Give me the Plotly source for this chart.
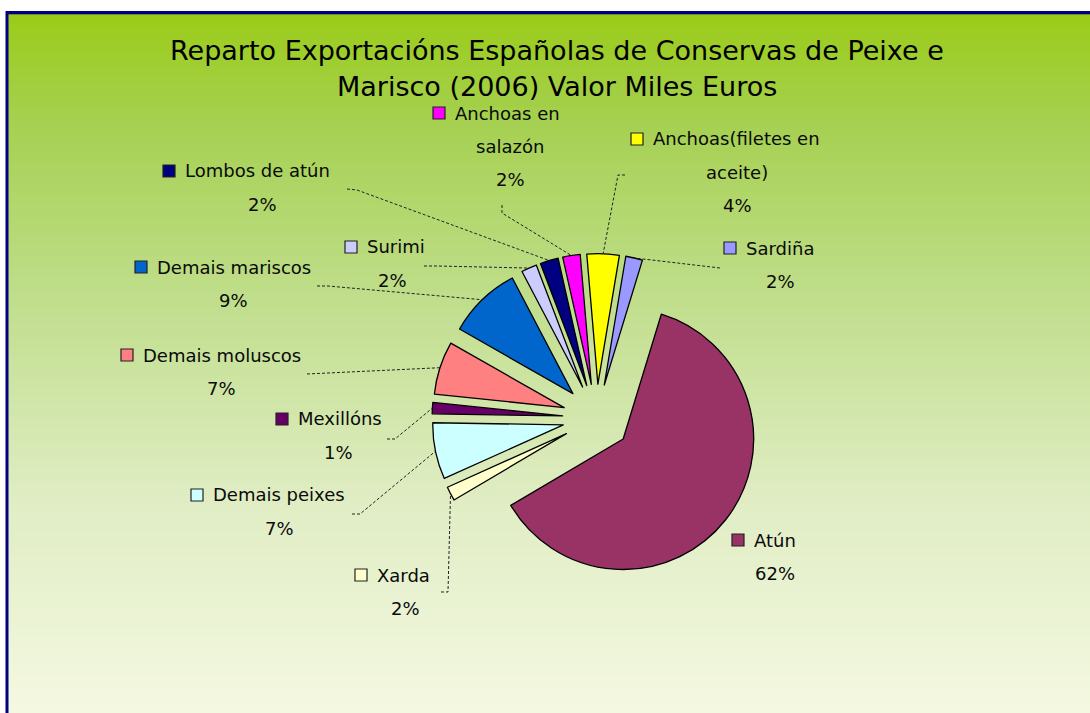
import plotly.graph_objects as go
import math

# ---------------- data ----------------
categories = ["Atún", "Xarda", "Demais peixes", "Mexillóns", "Demais moluscos",
              "Demais mariscos", "Surimi", "Lombos de atún", "Anchoas en salazón",
              "Anchoas(filetes en aceite)", "Sardiña"]
values = [371000, 10500, 42000, 8400, 39500, 54500, 11500, 13500, 13000, 24000, 12500]
colors = ["#993366", "#FFFFCC", "#CCFFFF", "#660066", "#FF8080", "#0066CC",
          "#CCCCFF", "#000080", "#FF00FF", "#FFFF00", "#9999FF"]
label_lines = [["Atún"], ["Xarda"], ["Demais peixes"], ["Mexillóns"], ["Demais moluscos"],
               ["Demais mariscos"], ["Surimi"], ["Lombos de atún"], ["Anchoas en", "salazón"],
               ["Anchoas(filetes en", "aceite)"], ["Sardiña"]]
title_lines = ["Reparto Exportacións Españolas de Conservas de Peixe e",
               "Marisco (2006) Valor Miles Euros"]

# ---------------- layout helpers (pixels) ----------------
W, H = 1090, 713
def X(px): return px / W
def Y(py): return 1 - py / H

CX, CY = 596.5, 418.0      # pie centre (px)
R = 130.5                   # pie radius (px)
PULL = 0.26
ROT = 17
BOX = 2 * R * (1 + PULL)

# label block placement: (text start x of first line, centre x, first line y)
label_pos = [(752, 775, 540), (375, 405, 575), (211, 279, 495), (296, 338, 419),
             (141, 221, 355), (155, 233, 267), (365, 392, 247), (183, 262, 171),
             (453, 510, 113), (651, 737, 139), (744, 780, 248)]
# leader line label-side points (None = no line)
leader_pts = [None, [(441, 592), (448, 592)], [(352, 514), (360, 514)],
              [(387, 439), (395, 439)], [(307, 374)], [(317, 286), (328, 286)],
              [(424, 266), (437, 266)], [(347, 189), (357, 190)],
              [(502, 205), (502, 213)], [(625, 175), (618, 175)], [(720, 268)]]
LINE_GAP = 33

total = sum(values)
pcts = [round(100 * v / total) for v in values]

fig = go.Figure()
fig.add_trace(go.Pie(
    labels=categories, values=values, sort=False, direction="clockwise",
    rotation=ROT, pull=[PULL] * len(values), textinfo="none", hoverinfo="label+value+percent",
    marker=dict(colors=colors, line=dict(color="#000000", width=1.3)),
    domain=dict(x=[X(CX - BOX / 2), X(CX + BOX / 2)], y=[Y(CY + BOX / 2), Y(CY - BOX / 2)]),
    showlegend=False,
))

shapes = []
# gradient background
stops = [(11, (154, 204, 22)), (120, (165, 208, 80)), (300, (192, 222, 140)),
         (500, (224, 237, 196)), (713, (244, 248, 225))]
def grad(py):
    for (y0, c0), (y1, c1) in zip(stops[:-1], stops[1:]):
        if py <= y1:
            t = max(0.0, (py - y0) / (y1 - y0))
            return tuple(round(a + (b - a) * t) for a, b in zip(c0, c1))
    return stops[-1][1]
step = 4
y = 11
while y < 730:
    c = grad(y + step / 2)
    shapes.append(dict(type="rect", xref="paper", yref="paper", x0=X(7), x1=X(1100),
                       y0=Y(y), y1=Y(y + step + 0.6), line=dict(width=0),
                       fillcolor="rgb(%d,%d,%d)" % c, layer="below"))
    y += step
# thin inner line under the border
shapes.append(dict(type="line", xref="paper", yref="paper", x0=X(8), x1=X(1100),
                   y0=Y(14.5), y1=Y(14.5), line=dict(color="#6E8C2A", width=1), layer="below"))
# border
shapes.append(dict(type="rect", xref="paper", yref="paper", x0=X(7), x1=X(1110),
                   y0=Y(12.5), y1=Y(740), line=dict(color="#000080", width=3),
                   fillcolor="rgba(0,0,0,0)", layer="below"))

annotations = []
for i, ln in enumerate(title_lines):
    annotations.append(dict(text=ln, x=X(556.5), y=Y(50 + 37 * i), xref="paper", yref="paper",
                            showarrow=False, xanchor="center", yanchor="middle",
                            font=dict(family="DejaVu Sans", size=27, color="#000000")))

# slice anchor points computed from data
cum = 0
for i, v in enumerate(values):
    a0 = ROT + 360 * cum / total
    a1 = ROT + 360 * (cum + v) / total
    cum += v
    mid = math.radians((a0 + a1) / 2)
    ax = CX + R * (1 + PULL) * math.sin(mid)
    ay = CY - R * (1 + PULL) * math.cos(mid)

    start, cx, y0 = label_pos[i]
    lines = label_lines[i] + ["%d%%" % pcts[i]]
    for j, t in enumerate(lines):
        if j == 0:
            annotations.append(dict(text=t, x=X(start), y=Y(y0), xref="paper", yref="paper",
                                    showarrow=False, xanchor="left", yanchor="middle",
                                    font=dict(family="DejaVu Sans", size=18, color="#0A0A0A")))
        else:
            annotations.append(dict(text=t, x=X(cx), y=Y(y0 + LINE_GAP * j), xref="paper",
                                    yref="paper", showarrow=False, xanchor="center",
                                    yanchor="middle",
                                    font=dict(family="DejaVu Sans", size=18, color="#0A0A0A")))
    # legend key
    k = start - 14
    shapes.append(dict(type="rect", xref="paper", yref="paper", x0=X(k - 6), x1=X(k + 6),
                       y0=Y(y0 + 6), y1=Y(y0 - 6), line=dict(color="#222222", width=1.2),
                       fillcolor=colors[i], layer="above"))
    # leader line
    pts = leader_pts[i]
    if pts:
        allp = pts + [(ax, ay)]
        path = "M " + " L ".join("%.5f,%.5f" % (X(px), Y(py)) for px, py in allp)
        shapes.append(dict(type="path", xref="paper", yref="paper", path=path,
                           line=dict(color="#222222", width=1, dash="3px,2px"), layer="above"))

fig.update_layout(
    width=W, height=H, margin=dict(l=0, r=0, t=0, b=0),
    paper_bgcolor="#FFFFFF", plot_bgcolor="rgba(0,0,0,0)",
    shapes=shapes, annotations=annotations,
)
fig.write_html("out.html", config={"displayModeBar": False},
               post_script="document.body.style.margin='0';document.body.style.overflow='hidden';")
